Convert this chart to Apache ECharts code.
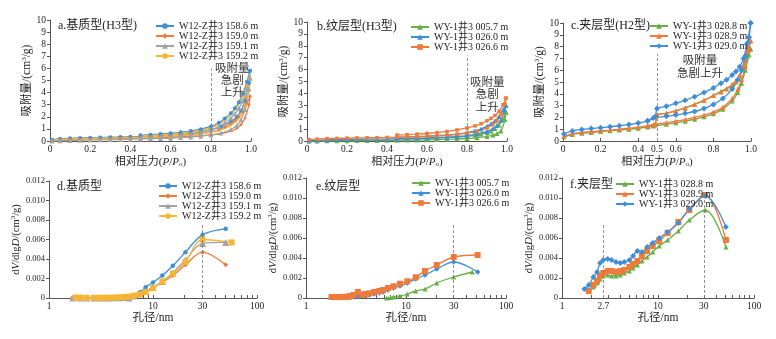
<!DOCTYPE html>
<html>
<head>
<meta charset="utf-8">
<script src="https://cdn.jsdelivr.net/npm/echarts@6/dist/echarts.min.js"></script>
<style>
html,body{margin:0;padding:0;background:#fff}
#chart{width:776px;height:339px}
</style>
</head>
<body>
<div id="chart"></div>
<script>
// ---- isotherm pressure grids (P/P0) ----
const adsP = [0.01,0.05,0.1,0.15,0.2,0.25,0.3,0.35,0.4,0.45,0.5,0.55,0.6,0.65,0.7,0.75,0.8,0.85,0.9,0.93,0.95,0.97,0.99,0.995];
const desP = [0.995,0.98,0.96,0.94,0.92,0.9,0.87,0.84,0.8,0.75,0.7,0.65,0.6,0.55,0.5,0.45];
const adsPC = [0.005,0.05,0.1,0.15,0.2,0.25,0.3,0.35,0.4,0.45,0.48,0.55,0.6,0.65,0.7,0.75,0.8,0.85,0.9,0.93,0.95,0.97,0.99,0.998];
const desPC = [0.998,0.98,0.96,0.94,0.92,0.9,0.87,0.84,0.8,0.75,0.7,0.65,0.6,0.55,0.5,0.49,0.45];

// ---- a. matrix type (H3) adsorption / desorption, cm3/g ----
const aNames = ['W12-Z井3 158.6 m','W12-Z井3 159.0 m','W12-Z井3 159.1 m','W12-Z井3 159.2 m'];
const a1586Ads = [0.1,0.18,0.22,0.25,0.27,0.29,0.31,0.33,0.35,0.37,0.4,0.44,0.48,0.54,0.62,0.74,0.92,1.18,1.6,2.0,2.5,3.3,4.8,5.8];
const a1586Des = [5.8,4.9,3.9,3.2,2.7,2.3,1.85,1.5,1.2,0.98,0.82,0.72,0.64,0.58,0.52,0.47];
const a1590Ads = [0.05,0.1,0.13,0.15,0.17,0.19,0.2,0.22,0.23,0.25,0.27,0.29,0.31,0.34,0.37,0.42,0.5,0.62,0.82,1.05,1.35,1.9,3.0,3.7];
const a1590Des = [3.7,3.1,2.4,2.0,1.7,1.45,1.15,0.93,0.75,0.6,0.5,0.44,0.39,0.35,0.32,0.3];
const a1591Ads = [0.0,0.03,0.05,0.07,0.09,0.1,0.12,0.13,0.15,0.17,0.19,0.21,0.24,0.28,0.33,0.4,0.5,0.66,0.95,1.3,1.75,2.6,4.3,5.2];
const a1591Des = [5.2,4.3,3.3,2.7,2.25,1.9,1.5,1.2,0.92,0.72,0.58,0.49,0.42,0.37,0.33,0.3];
const a1592Ads = [0.05,0.13,0.17,0.2,0.22,0.24,0.26,0.28,0.3,0.32,0.35,0.38,0.42,0.47,0.53,0.6,0.72,0.92,1.3,1.7,2.2,3.0,4.6,5.5];
const a1592Des = [5.5,4.6,3.7,3.05,2.6,2.2,1.75,1.4,1.1,0.88,0.72,0.62,0.55,0.5,0.45,0.42];

// ---- b. laminated type (H3) ----
const bNames = ['WY-1井3 005.7 m','WY-1井3 026.0 m','WY-1井3 026.6 m'];
const b0057Ads = [0.0,0.01,0.02,0.03,0.03,0.04,0.05,0.05,0.06,0.07,0.08,0.09,0.1,0.12,0.14,0.17,0.21,0.27,0.38,0.5,0.62,0.85,1.8,2.4];
const b0057Des = [2.4,1.8,1.35,1.05,0.85,0.72,0.58,0.48,0.4,0.33,0.28,0.25,0.22,0.2,0.18,0.17];
const b0260Ads = [0.03,0.08,0.1,0.12,0.13,0.14,0.15,0.16,0.17,0.19,0.21,0.23,0.26,0.29,0.33,0.38,0.46,0.58,0.8,1.05,1.3,1.75,2.6,3.0];
const b0260Des = [3.0,2.6,2.05,1.7,1.45,1.25,1.0,0.85,0.7,0.58,0.5,0.45,0.4,0.37,0.34,0.32];
const b0266Ads = [0.12,0.16,0.2,0.22,0.24,0.26,0.27,0.28,0.3,0.32,0.34,0.37,0.4,0.44,0.49,0.56,0.66,0.82,1.1,1.4,1.7,2.2,3.1,3.6];
const b0266Des = [3.6,3.05,2.5,2.15,1.9,1.7,1.45,1.27,1.1,0.93,0.8,0.71,0.64,0.58,0.53,0.5];

// ---- c. interlayer type (H2) ----
const cNames = ['WY-1井3 028.8 m','WY-1井3 028.9 m','WY-1井3 029.0 m'];
const c0288Ads = [0.35,0.55,0.65,0.72,0.8,0.86,0.93,1.0,1.08,1.2,1.27,1.42,1.55,1.68,1.85,2.05,2.3,2.7,3.4,4.1,4.9,6.0,7.3,7.8];
const c0288Des = [7.8,7.2,6.2,5.5,5.0,4.7,4.45,4.2,3.85,3.45,3.1,2.8,2.55,2.35,2.2,1.35,1.2];
const c0289Ads = [0.4,0.62,0.72,0.8,0.87,0.93,1.0,1.08,1.17,1.3,1.38,1.55,1.68,1.82,2.0,2.2,2.45,2.85,3.6,4.4,5.2,6.3,7.8,8.5];
const c0289Des = [8.5,7.6,6.4,5.6,5.1,4.8,4.4,4.15,3.85,3.45,3.1,2.8,2.55,2.35,2.2,1.45,1.3];
const c0290Ads = [0.6,0.85,0.98,1.05,1.13,1.2,1.3,1.4,1.52,1.7,1.95,2.1,2.2,2.35,2.5,2.75,3.1,3.6,4.4,5.2,6.0,7.2,8.8,10.0];
const c0290Des = [10.0,8.3,7.0,6.3,5.9,5.6,5.2,4.9,4.5,4.1,3.75,3.45,3.2,2.95,2.75,2.05,1.72];

// ---- d. pore size distribution, matrix type (nm, dV/dlgD) ----
const dSizes = [1.7,2.0,2.3,2.7,3.0,3.4,3.8,4.3,4.8,5.3,5.9,6.6,7.5,8.5,10,12.3,15.5,20.5,30,50];
const dSizesY = [1.8,2.0,2.3,2.7,3.0,3.4,3.8,4.3,4.8,5.3,5.9,6.6,7.5,8.5,10,12.3,15.5,20.5,30,57];
const d1586 = [0,0,0,0,0,0.00001,0.00002,0.00003,0.00005,0.00008,0.00015,0.00025,0.0006,0.0011,0.0016,0.0023,0.0033,0.0047,0.0065,0.0071];
const d1590 = [0,0,0,0,0,0,0.00001,0.00002,0.00004,0.00007,0.00012,0.0002,0.0004,0.0007,0.0011,0.0016,0.0023,0.0034,0.0047,0.0034];
const d1591 = [0,0,0,0,0,0,0.00001,0.00002,0.00003,0.00005,0,0.0002,0.0004,0.0007,0.0011,0.0017,0.0026,0.0039,0.0056,0.0057];
const d1592 = [0.00005,0.00004,0.00002,0.00002,0.00002,0.00003,0.00004,0.00005,0.00007,0.0001,0.00015,0.00025,0.0004,0.0006,0.001,0.0017,0.0025,0.0037,0.006,0.0057];

// ---- e. laminated type ----
const eSizes0057 = [6.4,7.0,7.5,8.7,10.3,12.5,15.5,20.3,30,46];
const e0057 = [0,0.00005,0.0001,0.0002,0.0004,0.0007,0.0009,0.0015,0.0021,0.0026];
const eSizes0260 = [2.6,2.8,3.0,3.3,3.6,3.9,4.3,4.8,5.4,5.9,6.6,7.5,8.7,10.3,12.5,15.5,20.3,30,52];
const e0260 = [0.00002,0.00005,0.0001,0.00012,0.0002,0.00025,0.0003,0.0004,0.0005,0.0006,0.0008,0.001,0.0012,0.0015,0.0019,0.0023,0.0029,0.0036,0.0026];
const eSizes0266 = [1.8,2.0,2.2,2.4,2.6,2.8,3.0,3.3,3.6,3.9,4.3,4.8,5.4,5.9,6.6,7.5,8.7,10.3,12.5,15.5,20.3,30,52];
const e0266 = [0.0001,0.0001,0.0001,0.0001,0.00015,0.0002,0.0003,0.0006,0.0003,0.0004,0.00047,0.0006,0.0007,0.0008,0.001,0.00117,0.00143,0.00167,0.00207,0.0027,0.0033,0.0041,0.0043];

// ---- f. interlayer type ----
const fSizes = [1.71,1.9,2.12,2.32,2.49,2.69,2.99,3.29,3.65,4.05,4.46,5.03,5.5,6.1,6.8,7.7,8.8,10.3,12.6,16.3,21.2,31,51];
const f0288 = [null,null,0.0011,0.0015,0.0019,0.0022,0.0023,0.0022,0.0022,0.0023,0.0025,0.0027,0.003,0.0033,0.0037,0.0041,0.0046,0.0052,0.0058,0.0067,0.0078,0.0088,0.0051];
const f0289 = [null,0.0007,0.0013,0.0017,0.0022,0.0025,0.0027,0.0027,0.0026,0.0027,0.0028,0.0031,0.0034,0.0037,0.0042,0.0047,0.0052,0.0057,0.0065,0.0076,0.0088,0.0103,0.0058];
const f0290 = [0.0009,0.0013,0.0021,0.0026,0.0035,0.0038,0.0039,0.0038,0.0036,0.0035,0.0036,0.0038,0.0042,0.0047,0.0046,0.0051,0.0055,0.006,0.0066,0.0075,0.0089,0.0102,0.0071];

// ---- axis ticks / labels ----
const pTicksC = [0,0.2,0.4,0.5,0.6,0.8,1.0];
const logLabels = [1,10,30,100];
const logLabelsF = [1,2.7,10,30,100];
const logTicks = [1,2,3,4,5,6,7,8,9,10,20,30,40,50,60,70,80,90,100];

const FONT = '"Liberation Serif","Noto Sans CJK SC",serif';
const INK = '#222';
const AXIS = '#555';
const COL = {blue:'#3f8ed8', orange:'#f07a3a', gray:'#a3a3a3', yellow:'#f6b633', green:'#6aaf46'};

const grids = [
  {left:50, top:20, width:201, height:121},
  {left:307, top:22, width:200, height:119},
  {left:563, top:23, width:188, height:118},
  {left:49, top:181, width:208, height:117},
  {left:306, top:178, width:200, height:120},
  {left:562, top:178, width:192, height:120}
];

const pairs = (xs, ys) => xs.map((x, i) => [x, ys[i]]).filter(p => p[1] != null);

const nameRich = {
  i: {fontStyle:'italic', fontFamily:FONT, fontSize:11, color:INK},
  s: {fontSize:7, fontFamily:FONT, color:INK, verticalAlign:'bottom', padding:[5,0,0,0]},
  u: {fontSize:7, fontFamily:FONT, color:INK, verticalAlign:'top', padding:[0,0,5,0]}
};

function pAxis(gi, custom) {
  return {
    type:'value', gridIndex:gi, min:0, max:1, interval:0.2,
    axisLine:{lineStyle:{color:AXIS, width:1}},
    axisTick:{inside:true, length:3, lineStyle:{color:AXIS}},
    axisLabel:{fontSize:9.5, color:INK, fontFamily:FONT, margin:4,
      formatter: v => v === 0 ? '0' : v.toFixed(1),
      customValues: custom},
    splitLine:{show:false},
    name:'相对压力({i|P}/{i|P}{s|o})', nameLocation:'middle', nameGap:15,
    nameTextStyle:{fontSize:11, fontFamily:FONT, color:INK, rich:nameRich}
  };
}
function qAxis(gi, gap) {
  return {
    type:'value', gridIndex:gi, min:0, max:10, interval:1,
    axisLine:{show:true, lineStyle:{color:AXIS}},
    axisTick:{show:true, length:3, lineStyle:{color:AXIS}},
    axisLabel:{fontSize:9.5, color:INK, fontFamily:FONT, margin:4},
    splitLine:{show:false},
    name:'吸附量/(cm{u|3}/g)', nameLocation:'middle', nameGap:gap, nameRotate:90,
    nameTextStyle:{fontSize:11.5, fontFamily:FONT, color:INK, rich:nameRich}
  };
}
function dAxis(gi, labels) {
  return {
    type:'log', logBase:10, gridIndex:gi, min:1, max:100,
    axisLine:{lineStyle:{color:AXIS}},
    axisTick:{inside:true, length:3, lineStyle:{color:AXIS}, customValues:logTicks},
    minorTick:{show:false},
    axisLabel:{fontSize:9.5, color:INK, fontFamily:FONT, margin:4, customValues:labels,
      formatter: v => String(+v.toFixed(1))},
    splitLine:{show:false},
    name:'孔径/nm', nameLocation:'middle', nameGap:14,
    nameTextStyle:{fontSize:11.5, fontFamily:FONT, color:INK}
  };
}
function vAxis(gi) {
  return {
    type:'value', gridIndex:gi, min:0, max:0.012, interval:0.002,
    axisLine:{show:true, lineStyle:{color:AXIS}},
    axisTick:{show:true, length:3, lineStyle:{color:AXIS}},
    axisLabel:{fontSize:8.5, color:INK, fontFamily:FONT, margin:4,
      formatter: v => v === 0 ? '0' : v.toFixed(3)},
    splitLine:{show:false},
    name:'d{i|V}/dlg{i|D}/(cm{u|3}/g)', nameLocation:'middle', nameGap:27, nameRotate:90,
    nameTextStyle:{fontSize:10.5, fontFamily:FONT, color:INK, rich:nameRich}
  };
}

function line(gi, name, data, color, symbol, size, smooth, extra) {
  return Object.assign({
    type:'line', name, xAxisIndex:gi, yAxisIndex:gi, data,
    color, symbol, symbolSize:size, showSymbol:symbol !== 'none',
    smooth, lineStyle:{width:1.3, color}, itemStyle:{color},
    emphasis:{disabled:true}, z:3
  }, extra || {});
}
function guide(points) {
  return {
    silent:true, symbol:'none', animation:false,
    lineStyle:{type:[3,2], color:'#777', width:0.8},
    label:{show:false},
    data: points.map(p => [{coord:[p[0], p[1]]}, {coord:[p[0], p[2]]}])
  };
}

const S = 0.25, SD = 0.35;
const series = [
  // a
  line(0, aNames[0], pairs(adsP, a1586Ads), COL.blue, 'circle', 4, S, {markLine: guide([[0.8, 0, 6]])}),
  line(0, aNames[0], pairs(desP, a1586Des), COL.blue, 'circle', 4, S),
  line(0, aNames[1], pairs(adsP, a1590Ads), COL.orange, 'diamond', 3.5, S),
  line(0, aNames[1], pairs(desP, a1590Des), COL.orange, 'diamond', 3.5, S),
  line(0, aNames[2], pairs(adsP, a1591Ads), COL.gray, 'triangle', 5, S),
  line(0, aNames[2], pairs(desP, a1591Des), COL.gray, 'triangle', 5, S),
  line(0, aNames[3], pairs(adsP, a1592Ads), COL.yellow, 'none', 0, S, {lineStyle:{width:1.6, color:COL.yellow}}),
  line(0, aNames[3], pairs(desP, a1592Des), COL.yellow, 'none', 0, S, {lineStyle:{width:1.6, color:COL.yellow}}),
  // b
  line(1, bNames[0], pairs(adsP, b0057Ads), COL.green, 'triangle', 5, S, {markLine: guide([[0.8, 0, 7.2]])}),
  line(1, bNames[0], pairs(desP, b0057Des), COL.green, 'triangle', 5, S),
  line(1, bNames[1], pairs(adsP, b0260Ads), COL.blue, 'triangle', 5, S),
  line(1, bNames[1], pairs(desP, b0260Des), COL.blue, 'triangle', 5, S),
  line(1, bNames[2], pairs(adsP, b0266Ads), COL.orange, 'rect', 3.5, S),
  line(1, bNames[2], pairs(desP, b0266Des), COL.orange, 'rect', 3.5, S),
  // c
  line(2, cNames[0], pairs(adsPC, c0288Ads), COL.green, 'triangle', 5, S, {markLine: guide([[0.5, 0, 7.4]])}),
  line(2, cNames[0], pairs(desPC, c0288Des), COL.green, 'triangle', 5, S),
  line(2, cNames[1], pairs(adsPC, c0289Ads), COL.orange, 'triangle', 5, S),
  line(2, cNames[1], pairs(desPC, c0289Des), COL.orange, 'triangle', 5, S),
  line(2, cNames[2], pairs(adsPC, c0290Ads), COL.blue, 'diamond', 6, S),
  line(2, cNames[2], pairs(desPC, c0290Des), COL.blue, 'diamond', 6, S),
  // d
  line(3, aNames[0], pairs(dSizes, d1586), COL.blue, 'circle', 4.5, SD, {markLine: guide([[30, 0, 0.0075]])}),
  line(3, aNames[1], pairs(dSizes, d1590), COL.orange, 'diamond', 5, SD),
  line(3, aNames[2], pairs(dSizes, d1591), COL.gray, 'triangle', 7, SD),
  line(3, aNames[3], pairs(dSizesY, d1592), COL.yellow, 'rect', 6, SD),
  // e
  line(4, bNames[0], pairs(eSizes0057, e0057), COL.green, 'triangle', 5, SD, {markLine: guide([[30, 0, 0.0073]])}),
  line(4, bNames[1], pairs(eSizes0260, e0260), COL.blue, 'diamond', 5.5, SD),
  line(4, bNames[2], pairs(eSizes0266, e0266), COL.orange, 'rect', 6, SD),
  // f
  line(5, cNames[0], pairs(fSizes, f0288), COL.green, 'triangle', 5, SD, {markLine: guide([[2.7, 0, 0.0073], [30, 0, 0.0100]])}),
  line(5, cNames[1], pairs(fSizes, f0289), COL.orange, 'rect', 6, SD),
  line(5, cNames[2], pairs(fSizes, f0290), COL.blue, 'diamond', 6, SD)
];

function legend(left, top, rowH, names) {
  return {
    left, top, orient:'vertical', itemGap:0, itemWidth:18, itemHeight:7, padding:0,
    selectedMode:false,
    textStyle:{fontSize:10, fontFamily:FONT, color:INK, lineHeight:rowH, height:rowH},
    data: names
  };
}

const titleStyle = {fontSize:12, fontWeight:'normal', fontFamily:FONT, color:INK};
const titles = [
  ['a.基质型(H3型)', 58, 20], ['b.纹层型(H3型)', 317, 21], ['c.夹层型(H2型)', 571, 20],
  ['d.基质型', 57, 181], ['e.纹层型', 316, 181], ['f.夹层型', 570, 179]
].map(t => ({text:t[0], left:t[1], top:t[2], padding:0, textStyle:titleStyle}));

function note(text, x, y, lh) {
  return {type:'text', left:x, top:y, silent:true,
    style:{text, fill:'#333', font:'11.5px "Noto Sans CJK SC", sans-serif', textAlign:'center', lineHeight:lh}};
}

const option = {
  animation:false,
  backgroundColor:'#fff',
  textStyle:{fontFamily:FONT},
  title: titles,
  grid: grids,
  xAxis: [pAxis(0), pAxis(1), pAxis(2, pTicksC), dAxis(3, logLabels), dAxis(4, logLabels), dAxis(5, logLabelsF)],
  yAxis: [qAxis(0, 13), qAxis(1, 14), qAxis(2, 14), vAxis(3), vAxis(4), vAxis(5)],
  legend: [
    legend(155, 21, 9.5, aNames),
    legend(410, 22, 8.7, bNames),
    legend(649, 21, 10, cNames),
    legend(158, 181, 8, aNames),
    legend(411, 178, 9.3, bNames),
    legend(615, 179, 7, cNames)
  ],
  graphic: [
    note('吸附量\n急剧\n上升', 215, 62, 12),
    note('吸附量\n急剧\n上升', 470, 75, 12.5),
    note('吸附量\n急剧上升', 677, 53, 13)
  ],
  series
};

const chart = echarts.init(document.getElementById('chart'), null, {renderer:'canvas'});
chart.setOption(option);
</script>
</body>
</html>
